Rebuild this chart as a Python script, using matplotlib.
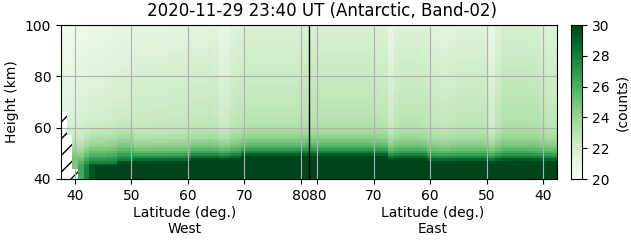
import numpy as np
import matplotlib
matplotlib.use('Agg')
import matplotlib.pyplot as plt

title = '2020-11-29 23:40 UT (Antarctic, Band-02)'

# height bins (km), 1 km rows from 40 to 100
height_edges = np.arange(40, 101, 1)

# counts profiles, one value per 1 km row, 40 -> 100 km
# sharp: column near lat 75 (dark layer up to ~49 km)
profile_sharp = [31, 31, 31, 31, 31, 31, 31, 31, 30.3, 29.0,
                 27.8, 26.8, 26.0, 25.4, 24.9, 24.5, 24.1, 23.8, 23.6, 23.4,
                 23.2, 23.1, 23.0, 22.95, 22.9, 22.85, 22.8, 22.8, 22.75, 22.7,
                 22.7, 22.65, 22.6, 22.6, 22.55, 22.5, 22.5, 22.45, 22.4, 22.4,
                 22.35, 22.3, 22.3, 22.25, 22.2, 22.2, 22.15, 22.1, 22.1, 22.05,
                 22.0, 22.0, 21.95, 21.9, 21.9, 21.85, 21.8, 21.8, 21.75, 21.7]
# broad: column near lat 46 West (dark layer up to ~45 km)
profile_broad = [31, 31, 31, 31, 31, 29.5, 28.0, 27.3, 26.6, 26.0,
                 25.5, 25.0, 24.6, 24.2, 23.9, 23.6, 23.3, 23.1, 22.9, 22.75,
                 22.6, 22.5, 22.4, 22.3, 22.25, 22.2, 22.15, 22.1, 22.05, 22.0,
                 21.95, 21.95, 21.9, 21.9, 21.85, 21.85, 21.8, 21.8, 21.75, 21.75,
                 21.7, 21.65, 21.6, 21.6, 21.55, 21.5, 21.5, 21.45, 21.4, 21.4,
                 21.35, 21.3, 21.3, 21.25, 21.2, 21.2, 21.15, 21.15, 21.1, 21.1]
profiles = {'sharp': profile_sharp, 'broad': profile_broad}

# West side, lat 38 ... 81
west_lat = list(range(38, 82))
west_kind = ['broad'] * 13 + ['sharp'] * 31
west_offset = [-0.6, -0.6, -0.4, -0.3, -0.3, -0.2, -0.2, -0.2, -0.1, 0.0,
               0.0, 0.0, 0.0, -0.45, -0.45, -0.45, -0.4, -0.4, -0.4, -0.35,
               -0.35, -0.35, -0.3, -0.3, -0.3, -0.3, -0.2, -0.3, -0.7, -0.6,
               -0.2, -0.1, -0.1, 0.0, 0.0, 0.0, 0.0, 0.0, 0.0, 0.0,
               0.0, 0.0, 0.1, 0.1]
west_shift = [-2, -2, -2, -3, -1, 0, 0, 0, 0, 0,
              1, 1, 1, -2, -2, -2, -2, -2, -2, -2,
              -2, -2, -2, -1, -1, -1, -1, -1, -1, -1,
              -1, -1, 0, 0, 0, 0, 0, 0, 0, 0,
              0, 0, 0, 0]
west_cap = [25, 25, 25, 26.3, 28, 29.5] + [40] * 38
west_mask_top = [66, 57, 44] + [40] * 41

# East side, lat 81 ... 38 (from the centre outwards)
east_lat = list(range(81, 37, -1))
east_kind = ['sharp'] * 44
east_offset = [0.1, 0.1, 0.1, 0.1, 0.1, 0.1, 0.1, 0.1, 0.1, 0.1,
               0.1, 0.0, 0.0, -0.1, -0.6, -0.2, 0.0, 0.0, 0.0, 0.0,
               -0.1, -0.1, -0.2, -0.3, -0.3, -0.2, -0.1, -0.1, -0.1, -0.1,
               -0.1, -0.2, -0.7, -0.1, 0.3, 0.3, 0.3, 0.3, 0.3, 0.3,
               0.2, 0.0, -0.1, -0.1]
east_shift = [0] * 14 + [-1] * 7 + [-2] * 23
east_cap = [40] * 44
east_mask_top = [40] * 44

tick_lats = [40, 50, 60, 70, 80]


def west_x(lat):
    return lat - 37.5


def east_x(lat):
    return 125.5 - lat


def column(kind, off, sh, cap, mtop):
    prof = np.array(profiles[kind])
    idx = np.clip(np.arange(len(prof)) - sh, 0, len(prof) - 1)
    col = np.minimum(prof[idx] + off, cap)
    return np.ma.masked_where(height_edges[:-1] < mtop, col)


cols = [column(*a) for a in zip(west_kind, west_offset, west_shift, west_cap, west_mask_top)]
cols += [column(*a) for a in zip(east_kind, east_offset, east_shift, east_cap, east_mask_top)]
Z = np.ma.column_stack(cols)
x_edges = np.arange(0, len(cols) + 1)

fig = plt.figure(figsize=(6.31, 2.43), dpi=100)
ax = fig.add_axes([61 / 631, 1 - 179 / 243, 496 / 631, 154 / 243])
cax = fig.add_axes([571 / 631, 1 - 179 / 243, 11 / 631, 154 / 243])

# hatching shows where there is no data
ax.patch.set_edgecolor('k')
ax.patch.set_linewidth(0)
ax.patch.set_hatch('//')

mesh = ax.pcolormesh(x_edges, height_edges, Z, cmap='Greens', vmin=20, vmax=30)
ax.axvline(west_x(81.5), color='k', lw=1)

ax.set_xlim(0, len(cols))
ax.set_ylim(40, 100)
ax.set_yticks([40, 60, 80, 100])
xt = [west_x(l) for l in tick_lats] + [east_x(l) for l in tick_lats[::-1]]
xl = [str(l) for l in tick_lats] + [str(l) for l in tick_lats[::-1]]
ax.set_xticks(xt, xl)
ax.grid(True)
ax.set_ylabel('Height (km)')

ax.text(0.25, -0.175, 'Latitude (deg.)\nWest', transform=ax.transAxes,
        ha='center', va='top', fontsize=10)
ax.text(0.75, -0.175, 'Latitude (deg.)\nEast', transform=ax.transAxes,
        ha='center', va='top', fontsize=10)
fig.text(322 / 631, 1 - 16 / 243, title, ha='center', va='baseline', fontsize=12)

cb = fig.colorbar(mesh, cax=cax)
cb.set_ticks([20, 22, 24, 26, 28, 30])
cb.set_label('(counts)')

plt.savefig('out.png', dpi=100)
